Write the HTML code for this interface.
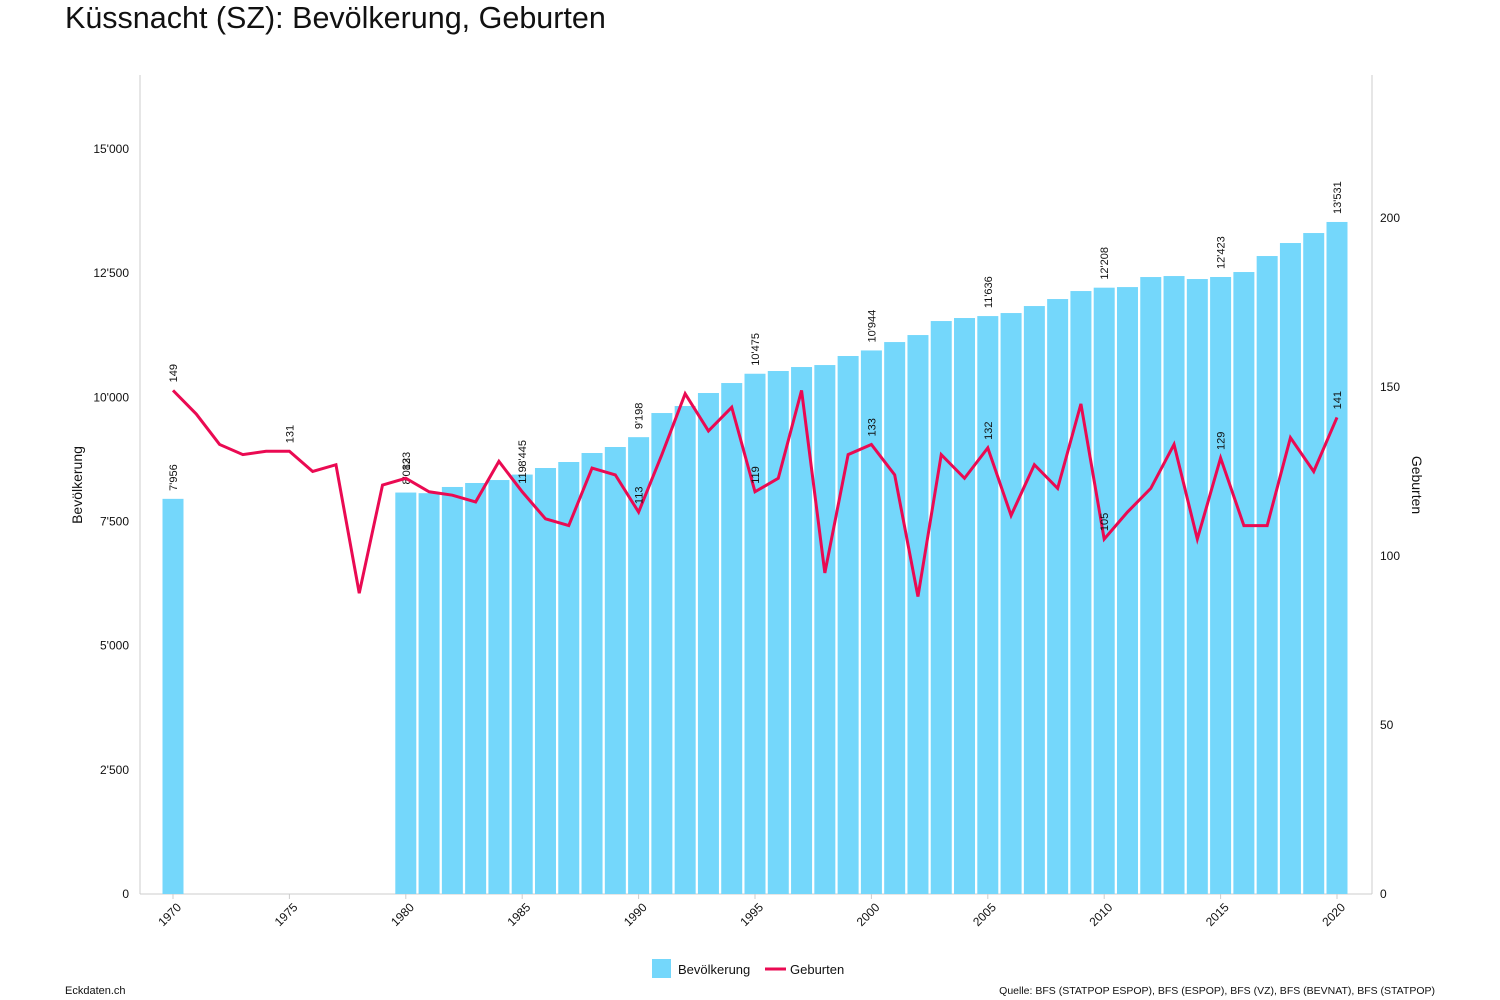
<!DOCTYPE html>
<html><head><meta charset="utf-8">
<style>
body{margin:0;background:#fff;font-family:"Liberation Sans",sans-serif;}
#wrap{position:relative;width:1500px;height:1000px;overflow:hidden}
.t{position:absolute;white-space:nowrap}
</style></head>
<body>
<div id="wrap">
<div class="t" style="left:65px;top:1px;font-size:30.5px;color:#111">Küssnacht (SZ): Bevölkerung, Geburten</div>
<svg id="svg" width="1500" height="1000" style="position:absolute;left:0;top:0"></svg>
<div class="t" style="left:65px;top:985px;font-size:11px;color:#111">Eckdaten.ch</div>
<div class="t" style="right:65px;top:985px;font-size:10.5px;color:#111">Quelle: BFS (STATPOP ESPOP), BFS (ESPOP), BFS (VZ), BFS (BEVNAT), BFS (STATPOP)</div>
</div>
<script>
const popYears=[1970,1980,1981,1982,1983,1984,1985,1986,1987,1988,1989,1990,1991,1992,1993,1994,1995,1996,1997,1998,1999,2000,2001,2002,2003,2004,2005,2006,2007,2008,2009,2010,2011,2012,2013,2014,2015,2016,2017,2018,2019,2020];
const popValues=[7956,8083,8070,8195,8275,8335,8445,8577,8698,8879,9000,9198,9684,9825,10087,10288,10475,10530,10610,10650,10832,10944,11113,11254,11536,11597,11636,11697,11838,11979,12140,12208,12220,12422,12442,12382,12423,12523,12845,13107,13308,13531];
const birthYears=[];for(let y=1970;y<=2020;y++)birthYears.push(y);
const birthValues=[149,142,133,130,131,131,125,127,89,121,123,119,118,116,128,119,111,109,126,124,113,130,148,137,144,119,123,149,95,130,133,124,88,130,123,132,112,127,120,145,105,113,120,133,105,129,109,109,135,125,141];
const leftTicks=[0,2500,5000,7500,10000,12500,15000];
const leftTickLabels=["0","2'500","5'000","7'500","10'000","12'500","15'000"];
const rightTicks=[0,50,100,150,200];
const xTicks=[1970,1975,1980,1985,1990,1995,2000,2005,2010,2015,2020];
const labelYears=[1970,1975,1980,1985,1990,1995,2000,2005,2010,2015,2020];

const svg=document.getElementById('svg');const NS='http://www.w3.org/2000/svg';
const X=y=>173+(y-1970)*23.28;
const YL=v=>894-v*745/15000;
const YR=v=>894-v*3.38;
function el(t,a,p){const e=document.createElementNS(NS,t);for(const k in a)e.setAttribute(k,a[k]);(p||svg).appendChild(e);return e;}
function fmt(v){const s=String(v);return s.length>3?s.slice(0,-3)+"'"+s.slice(-3):s;}
let e=el('line',{x1:140,y1:75,x2:140,y2:894,stroke:'#ccc'});
e=el('line',{x1:1372,y1:75,x2:1372,y2:894,stroke:'#ccc'});
e=el('line',{x1:140,y1:894,x2:1372,y2:894,stroke:'#ccc'});
leftTicks.forEach((v,i)=>{const t=el('text',{x:129,y:YL(v)+4,'text-anchor':'end','font-size':12,fill:'#111'});t.textContent=leftTickLabels[i];
});
rightTicks.forEach(v=>{const t=el('text',{x:1380,y:YR(v)+4,'font-size':12,fill:'#111'});t.textContent=v;
});
xTicks.forEach(y=>{const x=X(y);el('line',{x1:x,y1:894,x2:x,y2:899,stroke:'#ccc'});
const t=el('text',{x:x+9,y:908,'text-anchor':'end','font-size':12,fill:'#111',transform:`rotate(-45 ${x+9} 908)`});t.textContent=y;
});
let t=el('text',{x:82,y:485,'text-anchor':'middle','font-size':14,fill:'#111',transform:'rotate(-90 82 485)'});t.textContent='Bevölkerung';

t=el('text',{x:1412,y:485,'text-anchor':'middle','font-size':14,fill:'#111',transform:'rotate(90 1412 485)'});t.textContent='Geburten';

popYears.forEach((y,i)=>{const v=popValues[i];const b=el('rect',{x:X(y)-10.5,y:YL(v),width:21,height:894-YL(v),fill:'#74d7fb'});

if(labelYears.includes(y)){const tx=X(y)+4,ty=YL(v)-8;const l=el('text',{x:tx,y:ty,'font-size':11,fill:'#111',transform:`rotate(-90 ${tx} ${ty})`});l.textContent=fmt(v);
}});
const pts=birthYears.map((y,i)=>X(y)+','+YR(birthValues[i])).join(' ');
const pl=el('polyline',{points:pts,fill:'none',stroke:'#ea0a52','stroke-width':3,'stroke-linejoin':'miter'});

birthYears.forEach((y,i)=>{if(labelYears.includes(y)){const v=birthValues[i];const tx=X(y)+4,ty=YR(v)-8;const l=el('text',{x:tx,y:ty,'font-size':11,fill:'#111',transform:`rotate(-90 ${tx} ${ty})`});l.textContent=v;
}});
const g=el('g',{});
let r=el('rect',{x:652,y:959,width:19,height:19,fill:'#74d7fb'},g);
t=el('text',{x:678,y:974,'font-size':13,fill:'#111'},g);t.textContent='Bevölkerung';
r=el('line',{x1:765,y1:969,x2:786,y2:969,stroke:'#ea0a52','stroke-width':3},g);
t=el('text',{x:790,y:974,'font-size':13,fill:'#111'},g);t.textContent='Geburten';
</script>
</body></html>
